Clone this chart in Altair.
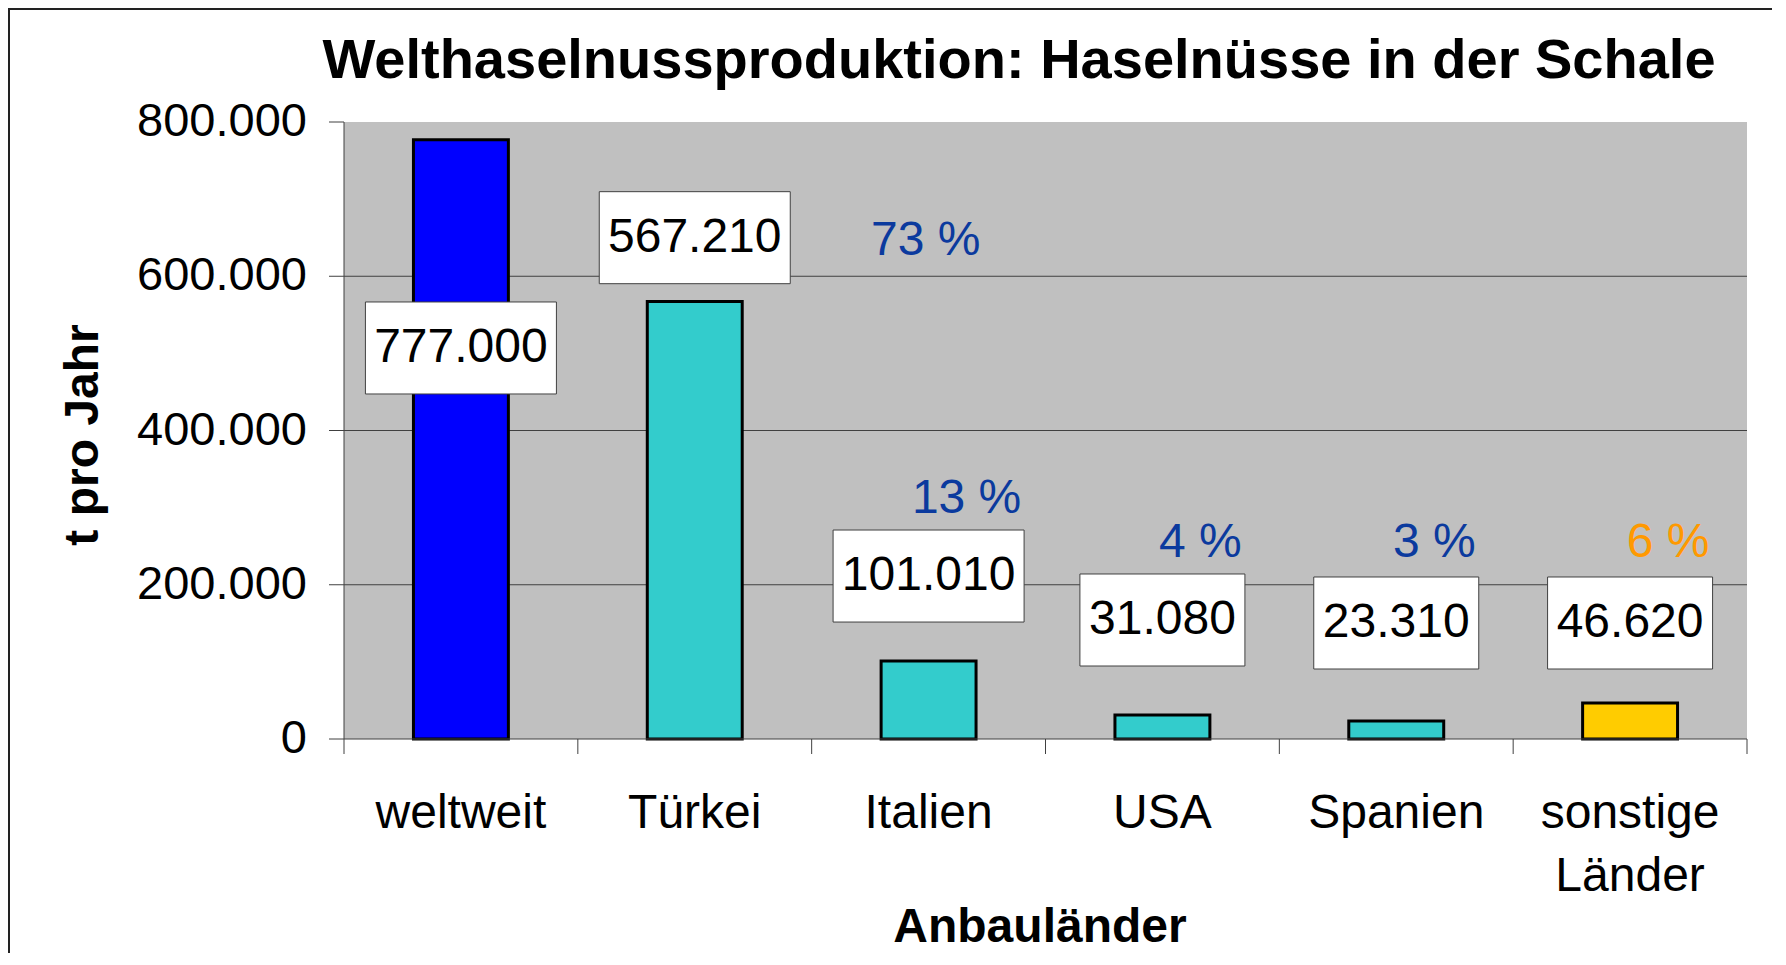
import altair as alt
import pandas as pd

# ---- data ----
categories = ["weltweit", "Türkei", "Italien", "USA", "Spanien", "sonstige Länder"]
production_t = [777000, 567210, 101010, 31080, 23310, 46620]
share_text = ["", "73 %", "13 %", "4 %", "3 %", "6 %"]
# where the (manually placed) annotation boxes sit, in t
value_label_at = [507000, 650000, 211300, 154300, 150400, 150400]
share_label_at = [0, 645700, 311200, 253500, 253500, 253500]
y_ticks = [0, 200000, 400000, 600000, 800000]
grid_values = [200000, 400000, 600000]

bar_colors = ["#0000FF", "#33CCCC", "#33CCCC", "#33CCCC", "#33CCCC", "#FFCC00"]

df = pd.DataFrame({
    "country": categories,
    "production_t": production_t,
    "share": share_text,
    "value_label_at": value_label_at,
    "share_label_at": share_label_at,
})
grid_df = pd.DataFrame({"g": grid_values})
tick_df = pd.DataFrame({"v": y_ticks})

W, H = 1403, 617
FONT = "Liberation Sans"
GRID = "#404040"
TITLE = "Welthaselnussproduktion: Haselnüsse in der Schale"

X_SCALE = alt.Scale(domain=categories, paddingInner=0, paddingOuter=0)
Y_SCALE = alt.Scale(domain=[0, 800000], nice=False, zero=True)


def x_plain(**kw):
    return alt.X("country:N", sort=categories, scale=X_SCALE, axis=None, **kw)


def y_q(field):
    return alt.Y(field, scale=Y_SCALE, axis=None)


one = alt.Data(values=[{"a": 1}])

# ---- plot furniture (drawn through the same scales) ----
gridlines = alt.Chart(grid_df).mark_rule(color=GRID, strokeWidth=1).encode(y=y_q("g:Q"))

y_domain = alt.Chart(one).mark_rule(color=GRID, strokeWidth=1).encode(
    x=alt.value(0), y=alt.value(0), y2=alt.value(H)
)
x_domain = alt.Chart(one).mark_rule(color=GRID, strokeWidth=1).encode(
    x=alt.value(0), x2=alt.value(W), y=alt.value(H)
)
y_tick_marks = alt.Chart(tick_df).mark_rule(color=GRID, strokeWidth=1).encode(
    x=alt.value(-15), x2=alt.value(0), y=y_q("v:Q")
)
y_tick_labels = alt.Chart(tick_df).mark_text(
    fontSize=47, color="black", font=FONT, align="right", baseline="middle"
).encode(x=alt.value(-37), y=y_q("v:Q"), text=alt.Text("v:Q", format=",d"))

y_title = alt.Chart(alt.Data(values=[{"t": "t pro Jahr"}])).mark_text(
    fontSize=48, fontWeight="bold", color="black", font=FONT, angle=270,
    align="center", baseline="alphabetic",
).encode(x=alt.value(-246), y=alt.value(313), text="t:N")

x_ticks = alt.Chart(df).mark_rule(color=GRID, strokeWidth=1).encode(
    x=x_plain(bandPosition=0), y=alt.value(H), y2=alt.value(H + 15)
)
x_tick_end = alt.Chart(one).mark_rule(color=GRID, strokeWidth=1).encode(
    x=alt.value(W), y=alt.value(H), y2=alt.value(H + 15)
)
x_labels = alt.Chart(df).mark_text(
    fontSize=48, color="black", font=FONT, align="center", baseline="alphabetic",
    lineBreak=" ", lineHeight=63,
).encode(x=x_plain(), y=alt.value(H + 89), text="country:N")

x_title = alt.Chart(alt.Data(values=[{"t": "Anbauländer"}])).mark_text(
    fontSize=48, fontWeight="bold", color="black", font=FONT,
    align="center", baseline="alphabetic",
).encode(x=alt.value(696), y=alt.value(H + 203), text="t:N")

# ---- data marks ----
bars = alt.Chart(df).mark_bar(
    width=alt.RelativeBandSize(0.406), stroke="black", strokeWidth=3
).encode(
    x=x_plain(),
    y=y_q("production_t:Q"),
    color=alt.Color("country:N", scale=alt.Scale(domain=categories, range=bar_colors),
                    legend=None),
)

box_base = alt.Chart(df).transform_calculate(
    lo="datum.value_label_at - 59650", hi="datum.value_label_at + 59650"
)
boxes_wide = box_base.transform_filter("datum.production_t >= 100000").mark_rect(
    width=191, fill="white", stroke="#404040", strokeWidth=1
).encode(x=x_plain(), y=y_q("lo:Q"), y2="hi:Q")
boxes_narrow = box_base.transform_filter("datum.production_t < 100000").mark_rect(
    width=165, fill="white", stroke="#404040", strokeWidth=1
).encode(x=x_plain(), y=y_q("lo:Q"), y2="hi:Q")

value_text = alt.Chart(df).mark_text(
    fontSize=48, align="center", baseline="middle", color="black", font=FONT
).encode(
    x=x_plain(),
    y=y_q("value_label_at:Q"),
    text=alt.Text("production_t:Q", format=",d"),
)

share_color = alt.condition(alt.datum.country == "sonstige Länder",
                            alt.value("#FF9900"), alt.value("#0B3A9E"))

share_main = alt.Chart(df).transform_filter(
    "datum.share != '' && datum.country != 'Türkei'"
).mark_text(fontSize=48, align="center", baseline="middle", dx=38, font=FONT).encode(
    x=x_plain(), y=y_q("share_label_at:Q"), text="share:N", color=share_color,
)
share_tr = alt.Chart(df).transform_filter("datum.country == 'Türkei'").mark_text(
    fontSize=48, align="center", baseline="middle", dx=231, font=FONT
).encode(
    x=x_plain(), y=y_q("share_label_at:Q"), text="share:N", color=share_color,
)

title_text = alt.Chart(alt.Data(values=[{"t": TITLE}])).mark_text(
    fontSize=56, fontWeight="bold", color="black", font=FONT,
    align="center", baseline="alphabetic",
).encode(x=alt.value(675), y=alt.value(-44), text="t:N")

frame_left = alt.Chart(one).mark_rule(color="#222222", strokeWidth=2).encode(
    x=alt.value(-335), y=alt.value(-114), y2=alt.value(H + 300)
)
frame_top = alt.Chart(one).mark_rule(color="#222222", strokeWidth=2).encode(
    x=alt.value(-336), x2=alt.value(W + 100), y=alt.value(-113)
)

chart = alt.layer(
    gridlines, y_domain, bars, x_domain, y_tick_marks, y_tick_labels, y_title,
    x_ticks, x_tick_end, x_labels, x_title,
    boxes_wide, boxes_narrow, value_text, share_main, share_tr,
    title_text, frame_left, frame_top,
).properties(
    width=W,
    height=H,
    padding={"left": 336, "top": 114, "right": 25, "bottom": 214},
    autosize=alt.AutoSizeParams(type="none"),
).configure(
    font=FONT,
    background="white",
    locale={"number": {"decimal": ",", "thousands": ".", "grouping": [3],
                       "currency": ["", " €"]}},
).configure_view(
    fill="#C0C0C0", stroke=None
)

chart.save("out.html", embed_options={"renderer": "svg", "actions": False})
